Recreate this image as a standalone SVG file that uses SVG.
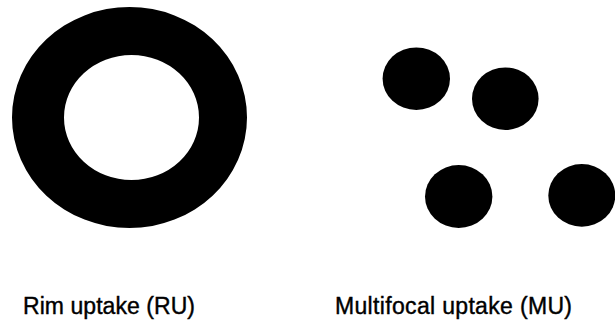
<svg xmlns="http://www.w3.org/2000/svg" width="615" height="324" viewBox="0 0 615 324">
<style>
.blob{fill:#000}
.lbl{font-family:"Liberation Sans",Arial,sans-serif;font-size:23px;fill:#000;stroke:#000;stroke-width:0.4}
</style>
<rect width="615" height="324" fill="#fff"/>
<g id="rim">
<path class="blob" fill-rule="evenodd" d="M12,117.5 a117.5,110.5 0 1,0 235,0 a117.5,110.5 0 1,0 -235,0 Z M64,117.5 a67.5,62.5 0 1,0 135,0 a67.5,62.5 0 1,0 -135,0 Z"/>
</g>
<g id="multifocal">
<ellipse class="blob" cx="416.3" cy="78.7" rx="33.7" ry="31.3"/>
<ellipse class="blob" cx="505.3" cy="98.7" rx="33.3" ry="31.3"/>
<ellipse class="blob" cx="458.7" cy="196.5" rx="33.7" ry="31.5"/>
<ellipse class="blob" cx="581.8" cy="195.4" rx="33.5" ry="31.3"/>
</g>
<g id="labels">
<text class="lbl" x="23" y="314" textLength="172">Rim uptake (RU)</text>
<text class="lbl" x="335" y="314" textLength="237">Multifocal uptake (MU)</text>
</g>
</svg>
